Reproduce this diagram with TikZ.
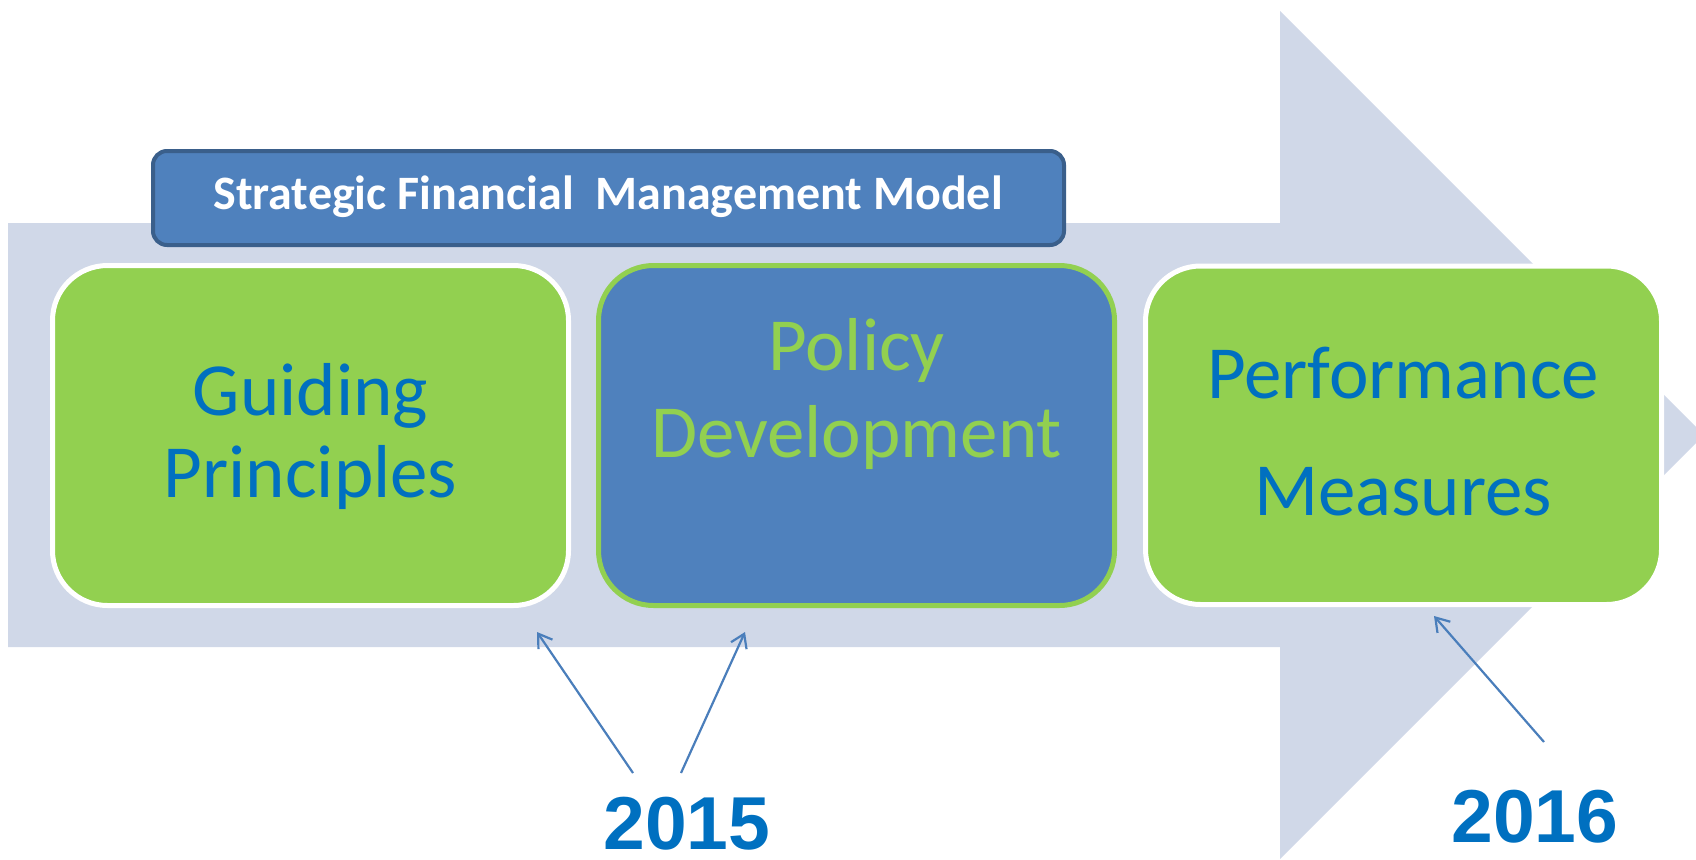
\documentclass[tikz,border=0pt]{standalone}
\usepackage{fontspec}
\setmainfont{Carlito}
\newfontfamily\arialfont{Liberation Sans}
\usetikzlibrary{arrows.meta}
\definecolor{arrowbg}{HTML}{D0D8E8}
\definecolor{boxblue}{HTML}{4F81BD}
\definecolor{boxgreen}{HTML}{92D050}
\definecolor{txtblue}{HTML}{0070C0}
\definecolor{titleborder}{HTML}{3A5F8B}
\definecolor{linkblue}{HTML}{4A7EBB}
\tikzset{
  greenbox/.style={draw=white, line width=5pt, fill=boxgreen, rounded corners=55pt},
  bluebox/.style={draw=boxgreen, line width=5pt, fill=boxblue, rounded corners=55pt},
  titlebox/.style={draw=titleborder, line width=4pt, fill=boxblue, rounded corners=14pt},
  boxtext/.style={anchor=base, inner sep=0pt, font=\fontsize{75}{82}\selectfont},
  yeartext/.style={anchor=base, inner sep=0pt, text=txtblue, font=\arialfont\bfseries\fontsize{75}{80}\selectfont},
  link/.style={draw=linkblue, line width=2.2pt, -{Straight Barb[length=13pt,width=17pt,line width=2.2pt]}}
}
\begin{document}
\begin{tikzpicture}[x=1pt,y=-1pt]
\useasboundingbox (0,0) rectangle (1696,859);
\begin{scope}
\clip (0,0) rectangle (1696,859);
\fill[arrowbg] (8,223) -- (1280,223) -- (1280,11) -- (1704,435) -- (1280,859) -- (1280,647) -- (8,647) -- cycle;
\end{scope}
% title
\path[titlebox] (153,151) rectangle (1064,245);
\node[anchor=base, inner sep=0pt, text=white, font=\bfseries\fontsize{48}{50}\selectfont] (title) at (608,209) {Strategic Financial\ \ Management Model};
% boxes
\path[greenbox] (52.5,265.5) rectangle (568.5,605.5);
\path[bluebox] (598.5,265.5) rectangle (1114.5,605.5);
\path[greenbox] (1145.5,266) rectangle (1661.5,604.5);
\node[boxtext, text=txtblue] (g1) at (310.5,415) {Guiding};
\node[boxtext, text=txtblue] (g2) at (310.5,497) {Principles};
\node[boxtext, text=boxgreen] (p1) at (856.5,370) {Policy};
\node[boxtext, text=boxgreen] (p2) at (856.5,457) {Development};
\node[boxtext, text=txtblue] (m1) at (1403,398) {Performance};
\node[boxtext, text=txtblue] (m2) at (1403,515) {Measures};
% years
\node[yeartext] (y15) at (687,849) {2015};
\node[yeartext] (y16) at (1535,842) {2016};
% arrow ends
\coordinate (t1) at (633,773);
\coordinate (h1) at (537,632);
\coordinate (t2) at (681,773);
\coordinate (h2) at (745,632);
\coordinate (t3) at (1544,742);
\coordinate (h3) at (1434,616);
\draw[link] (t1) -- (h1);
\draw[link] (t2) -- (h2);
\draw[link] (t3) -- (h3);
\end{tikzpicture}
\end{document}
